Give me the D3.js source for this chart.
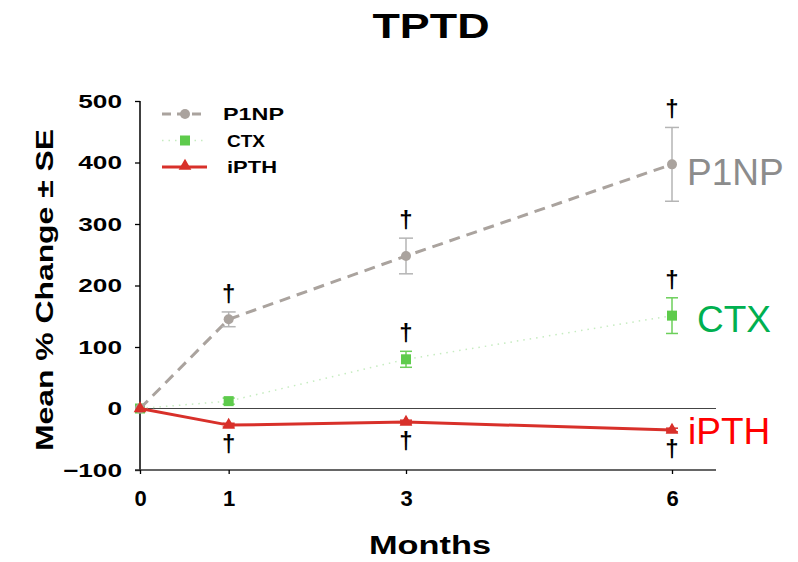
<!DOCTYPE html>
<html>
<head>
<meta charset="utf-8">
<script src="https://cdn.jsdelivr.net/npm/d3@7/dist/d3.min.js"></script>
<style>
  html, body { margin: 0; padding: 0; background: #fff; }
  text { font-family: "Liberation Sans", Arial, sans-serif; }
</style>
</head>
<body>
<svg id="chart" width="798" height="562"></svg>
<script>
// Time points (months) and mean % change for each marker
const months = [0, 1, 3, 6];
const p1np = [0, 145, 248, 397];
const p1npSE = [0, 12, 29, 60];
const ctx = [0, 12, 80, 151];
const ctxSE = [0, 5, 13, 29];
const ipth = [0, -27, -22, -35];
const ipthSE = [0, 3, 3, 3];
const yTicks = [-100, 0, 100, 200, 300, 400, 500];
// Significance markers (indices of time points)
const p1npSig = [1, 2, 3];
const ctxSig = [2, 3];
const ipthSig = [1, 2, 3];

const svg = d3.select("#chart");

const x = d3.scaleLinear().domain([0, 6]).range([140, 672]);
const y = d3.scaleLinear().domain([-100, 500]).range([470, 101]);

// Widen bold text horizontally by a factor
function widen(sel, f) {
  sel.each(function () {
    const w = this.getComputedTextLength();
    d3.select(this).attr("textLength", w * f).attr("lengthAdjust", "spacingAndGlyphs");
  });
}

// Title
svg.append("text")
  .attr("x", 431).attr("y", 38)
  .attr("text-anchor", "middle")
  .attr("font-size", 35).attr("font-weight", "bold")
  .attr("textLength", 117).attr("lengthAdjust", "spacingAndGlyphs")
  .text("TPTD");

// Y axis
const yAxis = d3.axisLeft(y).tickValues(yTicks).tickSize(5).tickPadding(13);
const gy = svg.append("g").attr("transform", "translate(140,0)").call(yAxis);
gy.select(".domain").attr("stroke", "#000").attr("stroke-width", 1.5).attr("d", "M0,101V470");
gy.selectAll(".tick line").attr("stroke", "#000").attr("stroke-width", 1.3);
gy.selectAll(".tick text")
  .attr("font-size", 19).attr("font-weight", "bold").attr("fill", "#000")
  .attr("font-family", "Liberation Sans, Arial, sans-serif");
widen(gy.selectAll(".tick text"), 1.38);

// X axis
const xAxis = d3.axisBottom(x).tickValues(months).tickSize(4).tickPadding(16).tickFormat(d3.format("d"));
const gx = svg.append("g").attr("transform", "translate(0,470)").call(xAxis);
gx.select(".domain").attr("stroke", "#333").attr("stroke-width", 1.5).attr("d", "M135,0H716");
gx.selectAll(".tick line").attr("stroke", "#000").attr("stroke-width", 1.3);
gx.selectAll(".tick text")
  .attr("font-size", 22).attr("font-weight", "bold").attr("fill", "#000")
  .attr("font-family", "Liberation Sans, Arial, sans-serif");

// Zero reference line
svg.append("line")
  .attr("x1", x(0)).attr("x2", 716)
  .attr("y1", y(0)).attr("y2", y(0))
  .attr("stroke", "#444").attr("stroke-width", 1.2);

// Axis titles
svg.append("text")
  .attr("x", 430).attr("y", 554)
  .attr("text-anchor", "middle")
  .attr("font-size", 26).attr("font-weight", "bold")
  .attr("textLength", 122).attr("lengthAdjust", "spacingAndGlyphs")
  .text("Months");

svg.append("text")
  .attr("transform", "translate(53,290) rotate(-90)")
  .attr("text-anchor", "middle")
  .attr("font-size", 24).attr("font-weight", "bold")
  .attr("textLength", 322).attr("lengthAdjust", "spacingAndGlyphs")
  .text("Mean % Change \u00b1 SE");

const line = (vals) => d3.line().x((d, i) => x(months[i])).y(d => y(d))(vals);

function errorBars(vals, se, color, cap) {
  const g = svg.append("g");
  vals.forEach((v, i) => {
    if (se[i] <= 0) return;
    const cx = x(months[i]);
    g.append("line").attr("x1", cx).attr("x2", cx)
      .attr("y1", y(v + se[i])).attr("y2", y(v - se[i]))
      .attr("stroke", color).attr("stroke-width", 1.5);
    [v + se[i], v - se[i]].forEach(e => {
      g.append("line").attr("x1", cx - cap).attr("x2", cx + cap)
        .attr("y1", y(e)).attr("y2", y(e))
        .attr("stroke", color).attr("stroke-width", 1.5);
    });
  });
}

// CTX series (dotted)
svg.append("path").attr("d", line(ctx))
  .attr("fill", "none").attr("stroke", "#c6ecc0").attr("stroke-width", 1.5)
  .attr("stroke-dasharray", "1.5,5");
errorBars(ctx, ctxSE, "#6ccf5a", 6);
svg.selectAll(".ctxpt").data(ctx).enter().append("rect")
  .attr("x", (d, i) => x(months[i]) - 5).attr("y", d => y(d) - 5)
  .attr("width", 10).attr("height", 10).attr("fill", "#5ecb4c");

// P1NP series (dashed)
svg.append("path").attr("d", line(p1np))
  .attr("fill", "none").attr("stroke", "#aaa39e").attr("stroke-width", 3)
  .attr("stroke-dasharray", "11,7");
errorBars(p1np, p1npSE, "#b5b5b5", 7);
svg.selectAll(".p1pt").data(p1np).enter().append("circle")
  .attr("cx", (d, i) => x(months[i])).attr("cy", d => y(d))
  .attr("r", 5).attr("fill", "#aaa39e");

// iPTH series (solid)
svg.append("path").attr("d", line(ipth))
  .attr("fill", "none").attr("stroke", "#d8302a").attr("stroke-width", 3);
errorBars(ipth, ipthSE, "#d8302a", 6);
const tri = d3.symbol().type(d3.symbolTriangle).size(70);
svg.selectAll(".ipt").data(ipth).enter().append("path")
  .attr("d", tri)
  .attr("transform", (d, i) => `translate(${x(months[i])},${y(d)})`)
  .attr("fill", "#d8302a");

// Significance daggers
function daggers(idx, vals, se, dy) {
  idx.forEach(i => {
    const v = dy < 0 ? vals[i] + se[i] : vals[i] - se[i];
    svg.append("text")
      .attr("x", x(months[i])).attr("y", y(v) + dy)
      .attr("text-anchor", "middle")
      .attr("font-size", 24).attr("font-weight", "bold")
      .text("\u2020");
  });
}
daggers(p1npSig, p1np, p1npSE, -10);
daggers(ctxSig, ctx, ctxSE, -10);
daggers(ipthSig, ipth, ipthSE, 25);

// Series end labels
const endLabels = [
  { text: "P1NP", value: p1np[3], color: "#8c8c8c", dx: 15, dy: 21 },
  { text: "CTX", value: ctx[3], color: "#00b050", dx: 25, dy: 16 },
  { text: "iPTH", value: ipth[3], color: "#ff0000", dx: 16, dy: 13.5 }
];
endLabels.forEach(l => {
  svg.append("text")
    .attr("x", x(6) + l.dx).attr("y", y(l.value) + l.dy)
    .attr("font-size", 37).attr("fill", l.color)
    .text(l.text);
});

// Legend
const legend = [
  { text: "P1NP", type: "circle", color: "#aaa39e", dash: "9,6", w: 3, tx: 223, tw: 61 },
  { text: "CTX", type: "rect", color: "#5ecb4c", dash: "1.5,5", w: 1.5, lineColor: "#c6ecc0", tx: 227, tw: 38 },
  { text: "iPTH", type: "tri", color: "#d8302a", dash: null, w: 3, tx: 227, tw: 50 }
];
legend.forEach((l, i) => {
  const ly = 114 + i * 26.5;
  const ln = svg.append("line").attr("x1", 162).attr("x2", 207)
    .attr("y1", ly).attr("y2", ly)
    .attr("stroke", l.lineColor || l.color).attr("stroke-width", l.w);
  if (l.dash) ln.attr("stroke-dasharray", l.dash);
  if (l.type === "circle") {
    svg.append("circle").attr("cx", 185).attr("cy", ly).attr("r", 5).attr("fill", l.color);
  } else if (l.type === "rect") {
    svg.append("rect").attr("x", 180).attr("y", ly - 5).attr("width", 10).attr("height", 10).attr("fill", l.color);
  } else {
    svg.append("path").attr("d", tri).attr("transform", `translate(185,${ly - 1})`).attr("fill", l.color);
  }
  svg.append("text").attr("x", l.tx).attr("y", ly + 6)
    .attr("font-size", 17).attr("font-weight", "bold")
    .attr("textLength", l.tw).attr("lengthAdjust", "spacingAndGlyphs")
    .text(l.text);
});
</script>
</body>
</html>
